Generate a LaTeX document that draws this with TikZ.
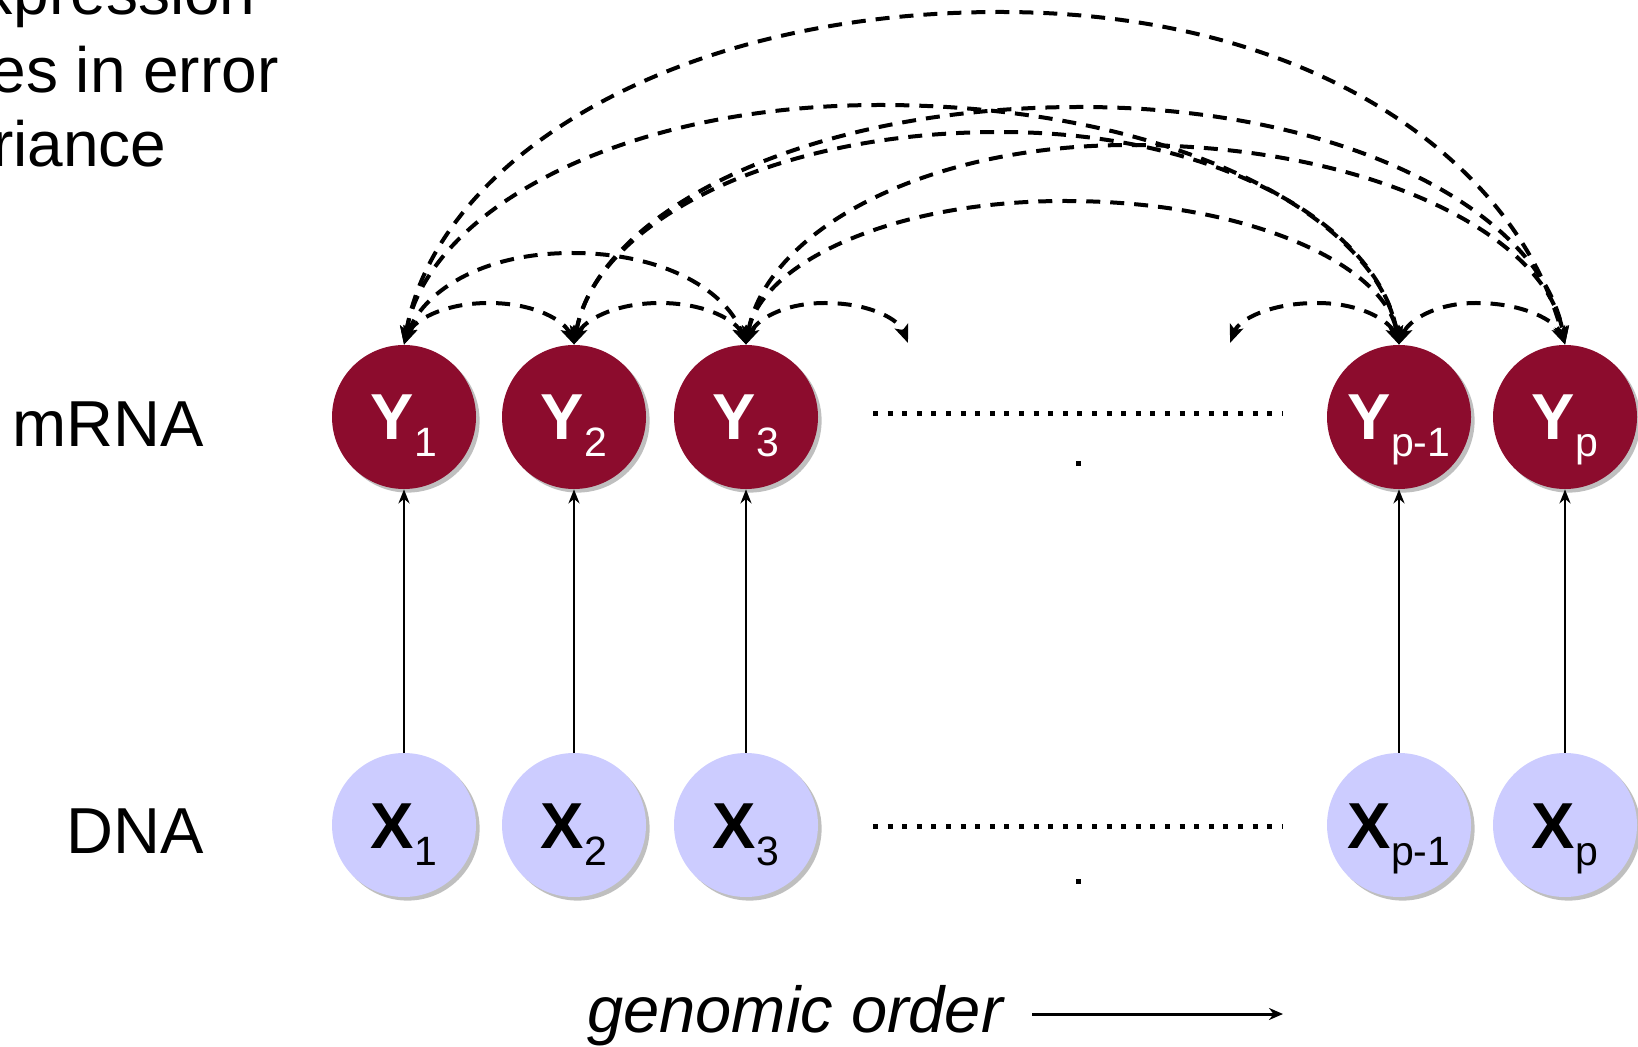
\documentclass[tikz,border=0pt]{standalone}
\usepackage{fontspec}
\setmainfont{Liberation Sans}
\usetikzlibrary{arrows.meta,shadows}
\definecolor{ycol}{RGB}{140,12,45}
\definecolor{xcol}{RGB}{204,204,255}
\newcommand{\circlbl}[2]{{\fontsize{32.5pt}{36pt}\selectfont\bfseries #1}\raisebox{-8.5pt}{\fontsize{20.5pt}{24pt}\selectfont #2}}
\begin{document}
\begin{tikzpicture}[x=0.5pt,y=-0.5pt,
  basecirc/.style={circle,minimum size=72pt,inner sep=0pt,text height=23pt,text depth=0pt,
    drop shadow={shadow xshift=1.8pt,shadow yshift=-1.8pt,opacity=0.5}},
  ynode/.style={basecirc,fill=ycol,text=white},
  xnode/.style={basecirc,fill=xcol,text=black},
  arcst/.style={line width=2pt,dash pattern=on 7pt off 5pt,
    {Stealth[length=9pt,width=7pt,inset=2pt]}-{Stealth[length=9pt,width=7pt,inset=2pt]}},
  varrow/.style={line width=1.3pt,-{Stealth[length=7pt,width=5.5pt]}},
  dotline/.style={line width=2.5pt,dash pattern=on 2.5pt off 4.8pt},
  dotsq/.style={rectangle,fill=black,minimum size=2.5pt,inner sep=0pt},
  biglbl/.style={inner sep=0pt,font=\fontsize{32.5pt}{38pt}\selectfont},
  toplbl/.style={inner sep=0pt,font=\fontsize{32pt}{38pt}\selectfont}
]
\useasboundingbox (0,0) rectangle (1638,1047);

% top-left text (cut by the left edge, as in the reference)
\node[toplbl,anchor=base east] (t1) at (256,15) {xpression};
\node[toplbl,anchor=base east] (t2) at (279,93) {es in error};
\node[toplbl,anchor=base east] (t3) at (167,167) {riance};

% row labels
\node[biglbl,anchor=base east] (lm) at (204,447) {mRNA};
\node[biglbl,anchor=base east] (ld) at (204,853) {DNA};

% mRNA nodes
\node[ynode] (Y1) at (404,417) {\circlbl{Y}{1}};
\node[ynode] (Y2) at (574,417) {\circlbl{Y}{2}};
\node[ynode] (Y3) at (746,417) {\circlbl{Y}{3}};
\node[ynode] (Yq) at (1399,417) {\circlbl{Y}{p-1}};
\node[ynode] (Yp) at (1565,417) {\circlbl{Y}{p}};

% DNA nodes
\node[xnode] (X1) at (404,825) {\circlbl{X}{1}};
\node[xnode] (X2) at (574,825) {\circlbl{X}{2}};
\node[xnode] (X3) at (746,825) {\circlbl{X}{3}};
\node[xnode] (Xq) at (1399,825) {\circlbl{X}{p-1}};
\node[xnode] (Xp) at (1565,825) {\circlbl{X}{p}};

% dotted gaps
\coordinate (ya) at (873,414);
\coordinate (yb) at (1283,414);
\coordinate (xa) at (873,826);
\coordinate (xb) at (1283,826);
\draw[dotline] (ya) -- (yb);
\draw[dotline] (xa) -- (xb);
\node[dotsq] (yd) at (1078,464) {};
\node[dotsq] (xd) at (1078,881) {};

% DNA -> mRNA
\draw[varrow] (X1.north) -- (Y1.south);
\draw[varrow] (X2.north) -- (Y2.south);
\draw[varrow] (X3.north) -- (Y3.south);
\draw[varrow] (Xq.north) -- (Yq.south);
\draw[varrow] (Xp.north) -- (Yp.south);

% dangling ends
\coordinate (d3) at (908,343);
\coordinate (dq) at (1230,343);

% long arcs
\draw[arcst] (Y1.north) .. controls +(32,-184) and +(-329,0) .. (1000,12)
  .. controls +(312,0) and +(-49,-184) .. (Yp.north);
\draw[arcst] (Y1.north) .. controls +(23,-132) and +(-263,0) .. (880,105)
  .. controls +(285,0) and +(-23,-132) .. (Yq.north);
\draw[arcst] (Y2.north) .. controls +(23,-131) and +(-279,0) .. (1080,107)
  .. controls +(268,0) and +(-23,-131) .. (Yp.north);
\draw[arcst] (Y2.north) .. controls +(20,-118) and +(-235,0) .. (1000,132)
  .. controls +(219,0) and +(-20,-118) .. (Yq.north);
\draw[arcst] (Y3.north) .. controls +(19,-110) and +(-212,0) .. (1130,145)
  .. controls +(240,0) and +(-19,-110) .. (Yp.north);
\draw[arcst] (Y3.north) .. controls +(14,-80) and +(-176,0) .. (1065,201)
  .. controls +(183,0) and +(-14,-80) .. (Yq.north);

% short arcs
\draw[arcst] (Y1.north) .. controls +(18,-51) and +(-93,0) .. (572,253)
  .. controls +(96,0) and +(-18,-51) .. (Y3.north);
\draw[arcst] (Y1.north) .. controls +(9,-23) and +(-47,0) .. (489,303)
  .. controls +(47,0) and +(-9,-23) .. (Y2.north);
\draw[arcst] (Y2.north) .. controls +(9,-23) and +(-47,0) .. (660,303)
  .. controls +(47,0) and +(-9,-23) .. (Y3.north);
\draw[arcst] (Y3.north) .. controls +(9,-23) and +(-44,0) .. (825,303)
  .. controls +(46,0) and +(-9,-23) .. (d3);
\draw[arcst] (Yq.north) .. controls +(-9,-23) and +(45,0) .. (1317,303)
  .. controls +(-48,0) and +(9,-23) .. (dq);
\draw[arcst] (Yq.north) .. controls +(9,-23) and +(-42,0) .. (1476,303)
  .. controls +(49,0) and +(-9,-23) .. (Yp.north);

% genomic order
\node[biglbl,anchor=base west,font=\fontsize{32.5pt}{38pt}\selectfont\itshape] (go) at (587,1032) {genomic order};
\coordinate (g0) at (1032,1014);
\coordinate (g1) at (1283,1014);
\draw[line width=1.5pt,-{Stealth[length=7pt,width=6pt]}] (g0) -- (g1);
\end{tikzpicture}
\end{document}
